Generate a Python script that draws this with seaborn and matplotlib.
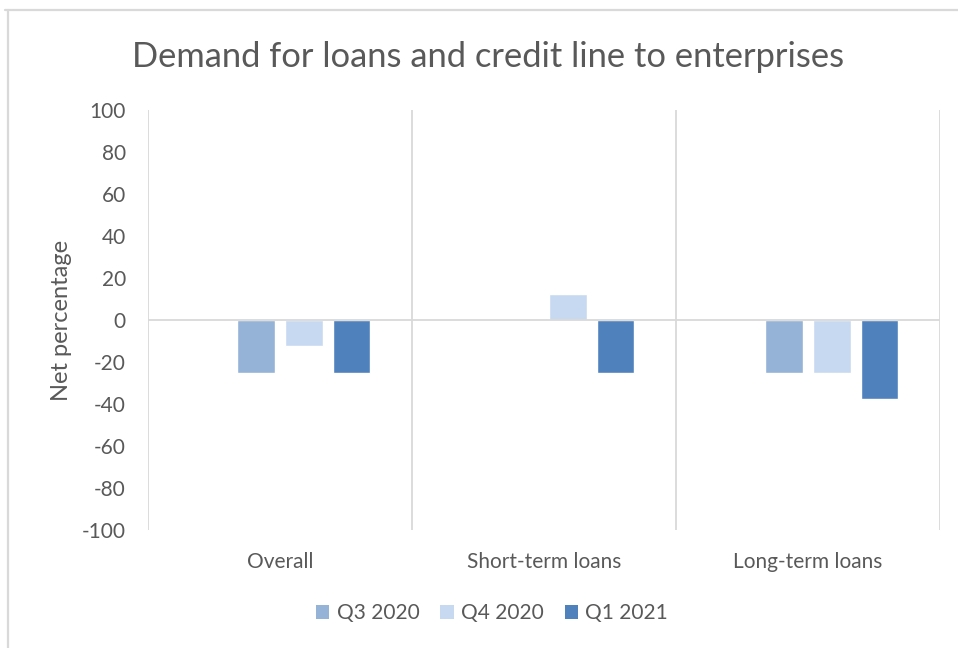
import numpy as np
import pandas as pd
import seaborn as sns
import matplotlib.pyplot as plt
from matplotlib.lines import Line2D
from matplotlib.patches import Patch

# Net percentages by loan type and survey round
categories = ["Overall", "Short-term loans", "Long-term loans"]
series = ["Q3 2020", "Q4 2020", "Q1 2021"]
q3_2020 = [-25, 0, -25]
q4_2020 = [-12.5, 12.5, -25]
q1_2021 = [-25, -25, -37.5]
# an empty leading series keeps its slot in each group
empty_series = [np.nan, np.nan, np.nan]
colors = ["#95B3D7", "#C6D9F1", "#4F81BD"]
y_ticks = list(range(-100, 101, 20))

sns.set_theme(style="white")
plt.rcParams["font.family"] = ["Lato", "DejaVu Sans"]

TEXT = "#595959"
GRID = "#D9D9D9"

rows = []
for name, vals in zip([" "] + series, [empty_series, q3_2020, q4_2020, q1_2021]):
    for cat, v in zip(categories, vals):
        rows.append({"category": cat, "series": name, "value": v})
df = pd.DataFrame(rows)

palette = {" ": "white"}
palette.update(dict(zip(series, colors)))

W, H = 958, 648
fig = plt.figure(figsize=(W / 100, H / 100), dpi=100)
ax = fig.add_axes([148 / W, 1 - 530 / H, (940 - 148) / W, (530 - 110) / H])

sns.barplot(data=df, x="category", y="value", hue="series",
            hue_order=[" "] + series, order=categories, palette=palette,
            errorbar=None, width=0.724, gap=0.22, saturation=1,
            legend=False, ax=ax, zorder=3)

ax.set_xlim(-0.5, len(categories) - 0.5)
ax.set_ylim(-100, 100)
ax.set_yticks(y_ticks)
ax.set_yticklabels([str(t) for t in y_ticks])
ax.set_xlabel("")
ax.set_ylabel("")

for s in ax.spines.values():
    s.set_visible(False)
# category separators and zero line
for xb in np.arange(-0.5, len(categories), 1.0):
    ax.axvline(xb, color=GRID, lw=1.3, zorder=1)
ax.axhline(0, color=GRID, lw=1.3, zorder=4)

ax.tick_params(axis="both", length=0, labelsize=15, colors=TEXT)
ax.tick_params(axis="y", pad=16)
ax.tick_params(axis="x", pad=16)

fig.text(62 / W, 1 - 320 / H, "Net percentage", rotation=90, ha="center",
         va="center", fontsize=17, color=TEXT)
fig.text(488 / W, 1 - 57 / H, "Demand for loans and credit line to enterprises",
         ha="center", va="center", fontsize=24.8, color=TEXT)

handles = [Patch(facecolor=c, edgecolor="none") for c in colors]
fig.legend(handles, series, loc="center", bbox_to_anchor=(492 / W, 1 - 613 / H),
           ncol=3, frameon=False, fontsize=15, labelcolor=TEXT,
           handlelength=0.65, handleheight=0.65, handletextpad=0.35,
           columnspacing=1.0)

# outer chart frame (top and left edges)
fig.add_artist(Line2D([5 / W, 1.0], [1 - 9.5 / H, 1 - 9.5 / H], color=GRID, lw=1.6))
fig.add_artist(Line2D([8 / W, 8 / W], [0, 1 - 9.5 / H], color=GRID, lw=1.6))

fig.savefig("out.png", dpi=100, facecolor="white")
